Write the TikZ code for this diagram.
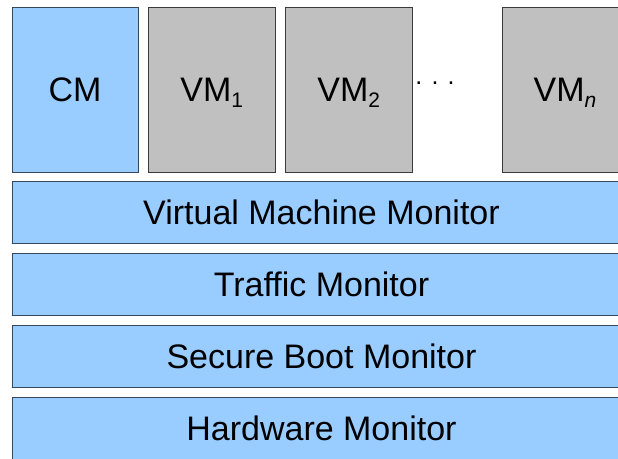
\documentclass[tikz,border=0pt]{standalone}
\usepackage{fontspec}
\setmainfont{Liberation Sans}
\definecolor{bluefill}{HTML}{99CCFF}
\definecolor{grayfill}{HTML}{C0C0C0}
\definecolor{blueline}{HTML}{35475C}
\definecolor{grayline}{HTML}{3A3A3A}
\newcommand{\subsc}[1]{\raisebox{-6pt}[0pt][0pt]{\fontsize{21}{21}\selectfont #1}}
\begin{document}
\begin{tikzpicture}[x=1pt,y=-1pt,
  box/.style={rectangle, inner sep=0pt, outer sep=0pt, line width=1pt,
    font=\fontsize{34}{40}\selectfont, text=black},
  bluebox/.style={box, fill=bluefill, draw=blueline},
  graybox/.style={box, fill=grayfill, draw=grayline},
  vmbox/.style={minimum height=164.5pt},
  layer/.style={bluebox, minimum width=619pt, minimum height=62pt}]
\useasboundingbox (0,0) rectangle (618,458);
\clip (0,0) rectangle (618,458);
\node[bluebox, vmbox, minimum width=126pt] (cm) at (75,89.75) {CM};
\node[graybox, vmbox, minimum width=126.5pt] (vm1) at (211.75,89.75) {VM\subsc{1}};
\node[graybox, vmbox, minimum width=126.5pt] (vm2) at (348.75,89.75) {VM\subsc{2}};
\node[anchor=base, inner sep=0pt, font=\fontsize{25}{25}\selectfont] (dots) at (435,84.5) {. . .};
\node[graybox, vmbox, minimum width=126pt] (vmn) at (565,89.75) {VM\subsc{\itshape n}};
\node[layer] (vmm) at (321.5,212) {Virtual Machine Monitor};
\node[layer] (tm) at (321.5,284) {Traffic Monitor};
\node[layer, minimum height=61.5pt] (sbm) at (321.5,356.25) {Secure Boot Monitor};
\node[layer] (hm) at (321.5,428) {Hardware Monitor};
\end{tikzpicture}
\end{document}
